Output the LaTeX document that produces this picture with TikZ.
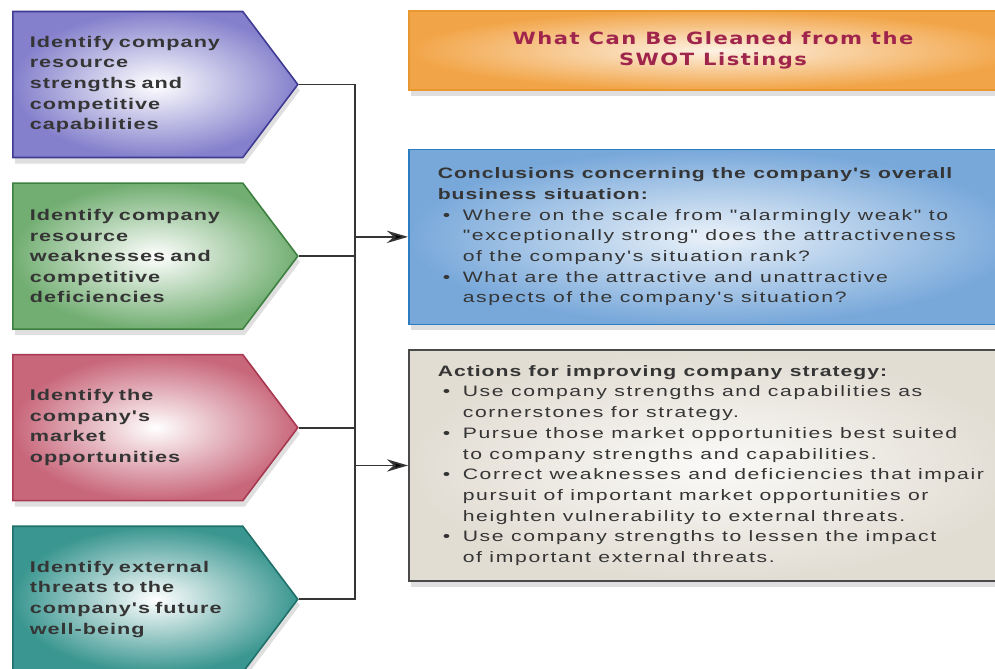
\documentclass[tikz,border=0pt]{standalone}
\usepackage{fontspec}
\setmainfont{Liberation Sans}
\newfontfamily\swotfont[FakeStretch=1.4,LetterSpace=11,BoldFeatures={LetterSpace=6.5}]{Liberation Sans}
\newfontfamily\titlefont[FakeStretch=1.25,LetterSpace=9]{DejaVu Sans}
\usetikzlibrary{positioning,shapes.symbols,shadows,arrows.meta}

\definecolor{purpfill}{HTML}{8480CC}
\definecolor{purpline}{HTML}{3F3B92}
\definecolor{greenfill}{HTML}{72AE72}
\definecolor{greenline}{HTML}{3E8040}
\definecolor{redfill}{HTML}{C8667A}
\definecolor{redline}{HTML}{A83850}
\definecolor{tealfill}{HTML}{3A9690}
\definecolor{tealline}{HTML}{20706A}
\definecolor{orangefill}{HTML}{F2A548}
\definecolor{orangeline}{HTML}{E8982E}
\definecolor{bluefill}{HTML}{78A8DA}
\definecolor{blueline}{HTML}{2B7DC2}
\definecolor{greyfill}{HTML}{E2DDD3}
\definecolor{greyline}{HTML}{4A4A4A}
\definecolor{titlered}{HTML}{A0254C}
\definecolor{textgrey}{HTML}{353535}

\newcommand\swotbul{\hspace*{0.1cm}\makebox[0.4cm][l]{\textbullet}}
\newcommand\swotind{\hspace*{0.5cm}}
\newcommand\swotspace{\spaceskip=4.2pt plus 1pt minus 1pt\relax}

\tikzset{swot node/.style 2 args={signal,signal to=east,signal pointer angle=106,
    draw=#2,line width=0.9pt,shading=radial,inner color=white,outer color=#1,
    text width=3.92cm,inner xsep=0.34cm,minimum height=2.92cm,align=left,text=textgrey,
    font=\swotfont\bfseries\fontsize{8.8}{11.7}\selectfont,
    drop shadow={opacity=0.25,shadow xshift=0.04cm,shadow yshift=-0.12cm}},
  result node/.style 2 args={rectangle,draw=#2,line width=0.9pt,shading=radial,
    inner color=#1!15!white,outer color=#1,
    text width=11.04cm,inner xsep=0.58cm,align=left,text=textgrey,
    font=\swotfont\fontsize{8.6}{11.8}\selectfont,
    execute at begin node=\swotspace,
    drop shadow={opacity=0.25,shadow xshift=0.04cm,shadow yshift=-0.12cm}},
  title text/.style={align=center,text=titlered,
    font=\titlefont\bfseries\fontsize{9.6}{11.9}\selectfont},
}

\begin{document}
\begin{tikzpicture}
    \useasboundingbox (0,0) rectangle (19.9,-13.36);
    \clip (0,0) rectangle (19.9,-13.36);

    \node[swot node={purpfill}{purpline},anchor=west] (S) at (0.24,-1.69)
        {Identify company\\resource\\strengths and\\competitive\\capabilities};
    \node[swot node={greenfill}{greenline}] (W) [below = 0.48cm of S]
        {Identify company\\resource\\weaknesses and\\competitive\\deficiencies};
    \node[swot node={redfill}{redline}] (O) [below = 0.48cm of W]
        {Identify the\\company's\\market\\opportunities};
    \node[swot node={tealfill}{tealline}] (T) [below = 0.48cm of O]
        {Identify external\\threats to the\\company's future\\well-being};

    \node[result node={orangefill}{orangeline},anchor=north west,minimum height=1.58cm] (head) at (8.16,-0.2) {};
    \node[title text] (title) at (14.26,-1.01) {What Can Be Gleaned from the\\SWOT Listings};
    \node[result node={bluefill}{blueline},minimum height=3.5cm] (concl) [below = 1.16cm of head]
        {\textbf{Conclusions concerning the company's overall}\\
         \textbf{business situation:}\\
         \swotbul Where on the scale from "alarmingly weak" to\\
         \swotind "exceptionally strong" does the attractiveness\\
         \swotind of the company's situation rank?\\
         \swotbul What are the attractive and unattractive\\
         \swotind aspects of the company's situation?};
    \node[result node={greyfill}{greyline},minimum height=4.62cm] (act) [below = 0.48cm of concl]
        {\textbf{Actions for improving company strategy:}\\
         \swotbul Use company strengths and capabilities as\\
         \swotind cornerstones for strategy.\\
         \swotbul Pursue those market opportunities best suited\\
         \swotind to company strengths and capabilities.\\
         \swotbul Correct weaknesses and deficiencies that impair\\
         \swotind pursuit of important market opportunities or\\
         \swotind heighten vulnerability to external threats.\\
         \swotbul Use company strengths to lessen the impact\\
         \swotind of important external threats.};

    \coordinate (bus) at (7.1,0);
    \path[draw,line width=1pt,draw=textgrey]
    (S.east) -| (T.east -| bus) -- (T.east)
    (W.east) -- (W.east -| bus)
    (O.east) -- (O.east -| bus);
    \path[line width=1pt,draw=textgrey]
    (concl.west -| bus) edge[-{Stealth[length=12pt,width=7pt]}] (concl.west)
    (act.west -| bus) edge[-{Stealth[length=12pt,width=7pt]}] (act.west);
\end{tikzpicture}
\end{document}
